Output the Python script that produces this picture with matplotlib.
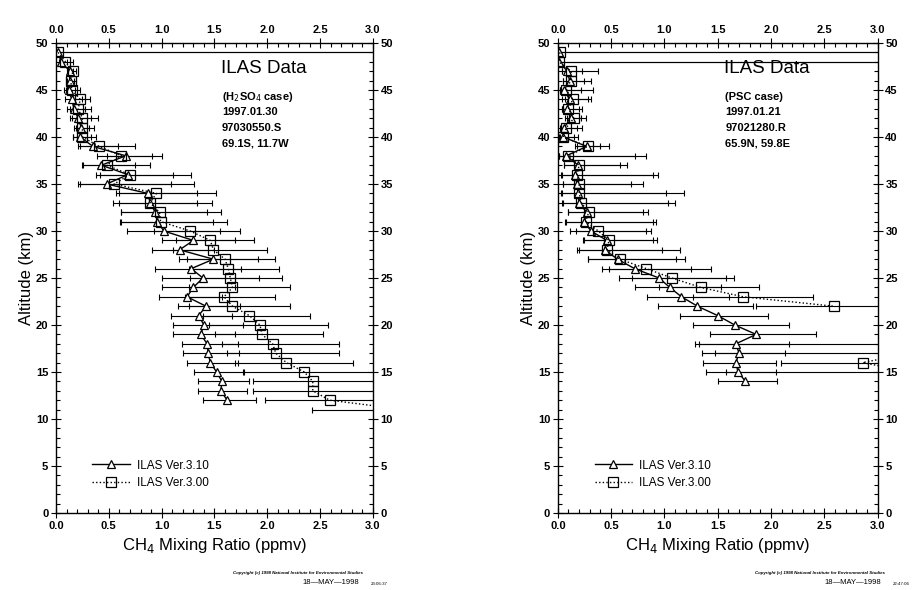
import numpy as np
import matplotlib
matplotlib.use("Agg")
import matplotlib.pyplot as plt
from matplotlib.ticker import MultipleLocator

plt.rcParams['font.family'] = ['Liberation Sans', 'DejaVu Sans']

# ---- 97030550.S (H2SO4 case) ----
alt_a = np.arange(49, 11, -1)
ch4_310_a = [0.02, 0.05, 0.13, 0.13, 0.12, 0.15, 0.17, 0.21, 0.24, 0.23,
             0.35, 0.66, 0.43, 0.68, 0.48, 0.87, 0.89, 0.94, 0.96, 1.02,
             1.30, 1.17, 1.49, 1.28, 1.39, 1.30, 1.24, 1.42, 1.35, 1.40,
             1.37, 1.43, 1.44, 1.46, 1.52, 1.57, 1.56, 1.62]
hi_310_a = [3.5, 0.10, 0.16, 0.17, 0.18, 0.25, 0.27, 0.33, 0.31, 0.33,
            0.59, 0.91, 0.75, 1.11, 1.09, 1.33, 1.33, 1.43, 1.49, 1.55,
            1.69, 1.50, 1.91, 1.75, 1.92, 1.69, 1.57, 1.74, 1.67, 1.77,
            1.69, 1.72, 1.73, 1.72, 1.77, 1.83, 1.81, 1.89]
alt_a300 = np.arange(49, 10, -1)
ch4_300_a = [0.02, 0.09, 0.16, 0.14, 0.15, 0.23, 0.21, 0.25, 0.25, 0.25,
             0.41, 0.62, 0.48, 0.70, 0.55, 0.95, 0.89, 0.98, 0.99, 1.27,
             1.46, 1.49, 1.60, 1.63, 1.65, 1.67, 1.59, 1.67, 1.83, 1.93,
             1.95, 2.05, 2.08, 2.18, 2.35, 2.43, 2.43, 2.59, 3.30]
hi_300_a = [3.5, 0.16, 0.19, 0.19, 0.23, 0.32, 0.33, 0.40, 0.36, 0.38,
            0.75, 1.00, 0.89, 1.28, 1.31, 1.51, 1.48, 1.56, 1.62, 1.74,
            1.87, 2.00, 2.07, 2.11, 2.14, 2.21, 2.07, 2.21, 2.40, 2.57,
            2.53, 2.68, 2.68, 2.81, 3.10, 3.17, 3.17, 3.39, 4.50]
info_a = ["(H$_2$SO$_4$ case)", "1997.01.30", "97030550.S", "69.1S, 11.7W"]
stamp_a = "23:06:37"

# ---- 97021280.R (PSC case) ----
alt_b = np.arange(49, 13, -1)
ch4_310_b = [0.01, 0.01, 0.09, 0.11, 0.06, 0.11, 0.09, 0.12, 0.06, 0.05,
             0.27, 0.08, 0.19, 0.16, 0.18, 0.19, 0.20, 0.27, 0.25, 0.31,
             0.46, 0.44, 0.56, 0.72, 0.95, 1.05, 1.16, 1.31, 1.50, 1.66,
             1.86, 1.67, 1.70, 1.67, 1.69, 1.76]
hi_310_b = [3.5, 3.5, 0.23, 0.25, 0.22, 0.28, 0.20, 0.22, 0.18, 0.15,
            0.40, 0.72, 0.58, 0.89, 0.69, 1.01, 1.03, 0.80, 0.89, 0.83,
            0.89, 0.98, 1.11, 1.25, 1.58, 1.53, 1.61, 1.83, 1.97, 2.17,
            2.42, 2.17, 2.13, 2.05, 2.05, 2.06]
alt_b300 = alt_b
ch4_300_b = [0.02, 0.01, 0.125, 0.12, 0.08, 0.14, 0.10, 0.15, 0.08, 0.05,
             0.28, 0.10, 0.20, 0.18, 0.20, 0.20, 0.22, 0.29, 0.26, 0.38,
             0.48, 0.46, 0.58, 0.83, 1.07, 1.34, 1.74, 2.59, np.nan, np.nan,
             np.nan, 3.30, 3.30, 2.86, 3.30, np.nan]
hi_300_b = [3.5, 3.5, 0.38, 0.31, 0.33, 0.31, 0.23, 0.26, 0.23, 0.19,
            0.48, 0.83, 0.65, 0.94, 0.80, 1.18, 1.10, 0.85, 0.92, 0.87,
            0.93, 1.15, 1.19, 1.44, 1.65, 1.89, 2.39, 3.60, np.nan, np.nan,
            np.nan, 8.25, 7.40, 3.90, 6.90, np.nan]
info_b = ["(PSC case)", "1997.01.21", "97021280.R", "65.9N, 59.8E"]
stamp_b = "22:47:06"


def draw_errbars(ax, x, alt, hi):
    # bars are symmetric in log space: x/f .. x*f
    x = np.asarray(x, float)
    hi = np.asarray(hi, float)
    lo = x ** 2 / hi
    ax.errorbar(x, alt, xerr=[x - lo, hi - x], fmt='none', ecolor='black',
                elinewidth=0.8, capsize=2.2, capthick=0.8)


def draw_panel(ax, alt310, v310, h310, alt300, v300, h300, info):
    draw_errbars(ax, v310, alt310, h310)
    draw_errbars(ax, v300, alt300, h300)
    ax.plot(v310, alt310, '-', color='black', lw=1.0, marker='^', ms=5.5,
            mfc='white', mec='black', mew=0.9, label='ILAS Ver.3.10')
    ax.plot(v300, alt300, color='black', lw=1.0, ls=(0, (1, 1.6)), marker='s',
            ms=6.5, mfc='none', mec='black', mew=0.9, label='ILAS Ver.3.00')

    ax.set_xlim(0, 3.0)
    ax.set_ylim(0, 50)
    ax.xaxis.set_major_locator(MultipleLocator(0.5))
    ax.xaxis.set_minor_locator(MultipleLocator(0.1))
    ax.yaxis.set_major_locator(MultipleLocator(5))
    ax.yaxis.set_minor_locator(MultipleLocator(1))
    ax.xaxis.set_major_formatter(matplotlib.ticker.FormatStrFormatter('%.1f'))
    ax.tick_params(which='both', top=True, right=True, labeltop=True,
                   labelright=True, labelsize=8, width=0.8, pad=2)
    ax.tick_params(which='major', direction='inout', length=7)
    ax.tick_params(which='minor', direction='in', length=3)
    for lab in ax.get_xticklabels() + ax.get_yticklabels():
        lab.set_fontweight('bold')
    for sp in ax.spines.values():
        sp.set_linewidth(1.0)

    ax.set_ylabel("Altitude (km)", fontsize=12, labelpad=1)
    ax.set_xlabel("CH$_4$ Mixing Ratio (ppmv)", fontsize=12, labelpad=4)

    ax.text(1.56, 47.3, "ILAS Data", fontsize=13.5, va='center', ha='left')
    for i, line in enumerate(info):
        ax.text(1.57, 44.3 - 1.68 * i, line, fontsize=8, fontweight='bold',
                va='center', ha='left')

    ax.legend(loc='lower left', bbox_to_anchor=(0.1, 0.04), frameon=False,
              fontsize=8.5, handlelength=3.2, handletextpad=0.6,
              labelspacing=0.5, numpoints=1, borderaxespad=0)


fig = plt.figure(figsize=(9.19, 5.90), dpi=100)
ax_a = fig.add_axes([0.0609, 0.1305, 0.345, 0.7966])
ax_b = fig.add_axes([0.607, 0.1305, 0.348, 0.7966])

draw_panel(ax_a, alt_a, ch4_310_a, hi_310_a, alt_a300, ch4_300_a, hi_300_a, info_a)
draw_panel(ax_b, alt_b, ch4_310_b, hi_310_b, alt_b300, ch4_300_b, hi_300_b, info_b)

# copyright stamps under each panel
copy_txt = "Copyright (c) 1998 National Institute for Environmental Studies"
for x0, stamp in [(0.254, stamp_a), (0.822, stamp_b)]:
    fig.text(x0, 0.028, copy_txt, fontsize=3.2, style='italic',
             fontweight='bold', ha='left', va='center')
    fig.text(x0 + 0.075, 0.013, "18\u2014MAY\u20141998", fontsize=5.5,
             ha='left', va='center')
    fig.text(x0 + 0.15, 0.010, stamp, fontsize=3.2, ha='left', va='center')

fig.savefig("out.png", dpi=100, facecolor='white')
